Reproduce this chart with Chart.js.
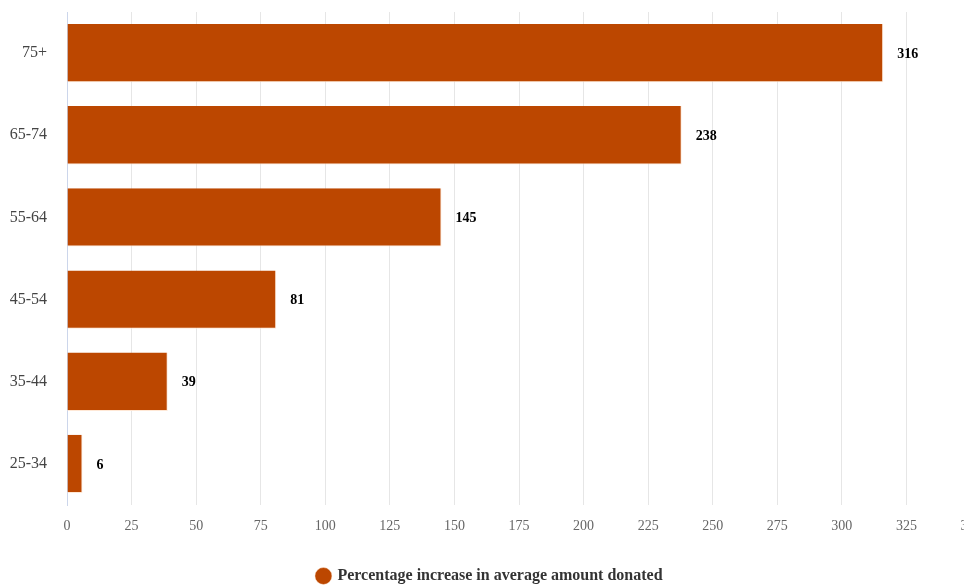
<!DOCTYPE html>
<html>
<head>
<meta charset="utf-8">
<script src="https://cdn.jsdelivr.net/npm/chart.js@4"></script>
<style>
html,body{margin:0;padding:0;overflow:hidden;background:#fff;}
#wrap{width:980px;height:585px;position:relative;}
</style>
</head>
<body>
<div id="wrap"><canvas id="c"></canvas></div>
<script>
const categories = ['75+', '65-74', '55-64', '45-54', '35-44', '25-34'];
const values = [316, 238, 145, 81, 39, 6];
const seriesName = 'Percentage increase in average amount donated';
const xMin = 0, xMax = 350, xStep = 25;

const FONT = '"Liberation Serif", "Times New Roman", serif';
const BAR = '#bc4700';

const valueLabels = {
  id: 'valueLabels',
  afterDatasetsDraw(chart) {
    const ctx = chart.ctx;
    const meta = chart.getDatasetMeta(0);
    ctx.save();
    ctx.font = 'bold 14px ' + FONT;
    ctx.fillStyle = '#000';
    ctx.textAlign = 'left';
    ctx.textBaseline = 'middle';
    meta.data.forEach((el, i) => {
      ctx.fillText(String(values[i]), el.x + 14, el.y + 1);
    });
    ctx.restore();
  }
};

new Chart(document.getElementById('c'), {
  type: 'bar',
  data: {
    labels: categories,
    datasets: [{
      label: seriesName,
      data: values,
      backgroundColor: BAR,
      borderColor: 'rgba(255,230,210,0.9)',
      borderWidth: {top: 0, left: 0, right: 1, bottom: 1},
      borderSkipped: false,
      barPercentage: 0.71,
      categoryPercentage: 1
    }]
  },
  options: {
    indexAxis: 'y',
    responsive: true,
    maintainAspectRatio: false,
    animation: false,
    layout: {padding: {top: 12, left: 0, right: 0, bottom: -9}},
    scales: {
      x: {
        min: xMin, max: xMax,
        ticks: {stepSize: xStep, color: '#666', font: {family: FONT, size: 14}, padding: 13, maxRotation: 0, autoSkip: false},
        grid: {color: '#e6e6e6', drawTicks: false, lineWidth: 1},
        border: {display: false},
        afterFit(s) { s.height = 59; s.paddingRight = 9; }
      },
      y: {
        ticks: {color: '#444', font: {family: FONT, size: 16}, padding: 20},
        grid: {display: false, drawTicks: false},
        border: {display: true, color: '#ccd6eb', width: 1},
        afterFit(s) { s.width = 67; s.paddingTop = 0; s.paddingBottom = 0; }
      }
    },
    plugins: {
      legend: {
        position: 'bottom',
        labels: {
          usePointStyle: true,
          pointStyle: 'circle',
          boxWidth: 12,
          boxHeight: 12,
          padding: 4,
          color: '#333',
          font: {family: FONT, size: 16, weight: 'bold'}
        }
      },
      tooltip: {enabled: false}
    }
  },
  plugins: [valueLabels]
});
</script>
</body>
</html>
